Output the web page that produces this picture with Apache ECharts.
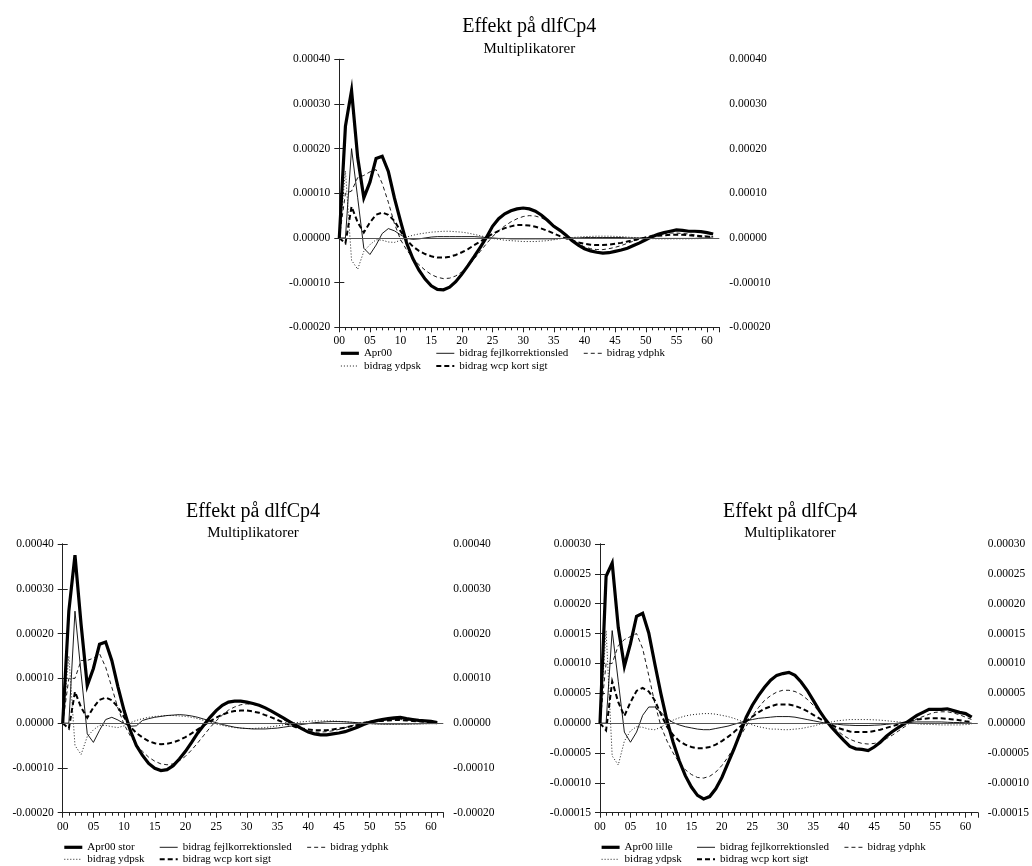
<!DOCTYPE html>
<html>
<head>
<meta charset="utf-8">
<script src="https://cdn.jsdelivr.net/npm/echarts@6/dist/echarts.min.js"></script>
<style>html,body{margin:0;padding:0;background:#fff;}#chart{width:1032px;height:866px;}</style>
</head>
<body>
<div id="chart"></div>
<script>
// x: periods 0..61 ; all values in units of 0.00001
const periods = Array.from({length: 62}, (_, i) => i);
const xTickLabels = ['00','05','10','15','20','25','30','35','40','45','50','55','60'];
const VALUE_UNIT = 0.00001;

// ---- Top panel: Apr00 ----
const topApr = [0,25,33,18,9,12.5,17.8,18.3,14.9,8.9,3.7,-1.2,-4.6,-7.2,-9.2,-10.7,-11.5,-11.6,-11.0,-9.8,-8.1,-6.2,-4.2,-2.1,0.1,2.6,4.3,5.4,6.1,6.5,6.7,6.5,6.0,5.1,3.9,2.6,1.7,0.6,-0.6,-1.6,-2.4,-2.9,-3.2,-3.4,-3.3,-3.0,-2.7,-2.3,-1.7,-1.1,-0.4,0.3,0.8,1.2,1.5,1.8,1.7,1.5,1.5,1.4,1.2,0.9];
const topFejl = [0,0,20,9,-2.3,-3.7,-1.6,1.0,2.1,1.6,0.7,-0.1,-0.3,-0.2,0,0.2,0.3,0.3,0.3,0.3,0.3,0.3,0.3,0.2,0.1,0,-0.1,-0.1,-0.2,-0.2,-0.2,-0.2,-0.2,-0.2,-0.2,-0.2,-0.1,-0.1,0,0,0.1,0.1,0.1,0.1,0.1,0.1,0.1,0,0,0,0,-0.1,-0.1,-0.1,-0.1,-0.1,-0.1,-0.1,-0.1,0,0,0];
const topYdphk = [0,10,10.5,13.5,14,14.8,15.3,12.2,8,3.2,-0.4,-2.7,-4.5,-6.0,-7.2,-8.2,-8.8,-9.1,-9.0,-8.5,-7.6,-6.3,-4.7,-3.0,-1.3,0.3,1.6,2.7,3.6,4.3,4.8,5.0,4.9,4.5,3.8,2.9,1.8,0.7,-0.4,-1.3,-2.0,-2.4,-2.6,-2.6,-2.4,-2.1,-1.7,-1.2,-0.7,-0.2,0.2,0.6,0.8,1.0,1.1,1.1,1.0,0.9,0.7,0.5,0.4,0.3];
const topYdpsk = [0,15,-5,-7,-3,-1.5,-0.4,-0.5,-0.9,-1.0,-0.5,0.2,0.6,0.9,1.1,1.3,1.4,1.5,1.5,1.4,1.3,1.1,0.8,0.5,0.2,-0.1,-0.3,-0.5,-0.6,-0.7,-0.8,-0.8,-0.8,-0.7,-0.6,-0.4,-0.2,0,0.1,0.2,0.3,0.35,0.4,0.4,0.4,0.35,0.3,0.2,0.1,0,-0.1,-0.15,-0.2,-0.2,-0.2,-0.2,-0.2,-0.2,-0.15,-0.15,-0.1,-0.1];
const topWcp = [0,-1.2,7,3.5,1.2,3.5,5.2,5.7,5.2,3.8,1.5,-0.5,-1.9,-2.9,-3.6,-4.1,-4.4,-4.4,-4.2,-3.8,-3.2,-2.5,-1.6,-0.8,0.1,0.9,1.6,2.2,2.6,2.9,2.9,2.8,2.5,2.1,1.6,1.0,0.4,-0.1,-0.6,-1.0,-1.3,-1.5,-1.6,-1.6,-1.5,-1.3,-1.1,-0.8,-0.5,-0.2,0.1,0.3,0.5,0.6,0.7,0.7,0.7,0.6,0.5,0.4,0.3,0.2];

// ---- Bottom-left panel: Apr00 stor ----
const storApr = [0,25,37.5,22,8.4,12.2,17.6,18.1,14,8.1,2.8,-1.6,-5.0,-7.2,-9.0,-10.1,-10.6,-10.4,-9.5,-8.0,-6.3,-4.3,-2.2,-0.4,1.3,2.8,4.0,4.7,4.9,4.9,4.7,4.4,4.0,3.4,2.7,1.9,1.1,0.3,-0.5,-1.3,-2.0,-2.4,-2.6,-2.6,-2.4,-2.2,-1.9,-1.4,-0.9,-0.3,0.2,0.5,0.8,1.0,1.2,1.3,1.0,0.8,0.6,0.5,0.4,0.1];
const storFejl = [0,0,25,11,-2.4,-4.3,-1.6,0.8,1.3,0.7,-0.1,-0.7,-0.6,0.6,1.0,1.3,1.5,1.7,1.8,1.9,1.8,1.6,1.3,0.9,0.5,0.1,-0.3,-0.6,-0.9,-1.1,-1.2,-1.3,-1.3,-1.3,-1.2,-1.1,-0.9,-0.7,-0.5,-0.3,-0.1,0.1,0.2,0.3,0.35,0.35,0.3,0.2,0.1,0,-0.1,-0.15,-0.2,-0.2,-0.2,-0.2,-0.2,-0.15,-0.15,-0.1,-0.1,-0.1];
const storYdphk = [0,10,10,14,14,14.5,15.5,12.5,8,3.3,-0.3,-2.8,-4.8,-6.3,-7.6,-8.5,-9.1,-9.3,-9.1,-8.4,-7.4,-6.0,-4.4,-2.7,-1.0,0.5,1.8,2.9,3.6,4.1,4.3,4.2,3.9,3.3,2.6,1.7,0.8,-0.1,-0.8,-1.4,-1.8,-2.0,-2.0,-1.9,-1.7,-1.4,-1.0,-0.6,-0.2,0.2,0.4,0.6,0.7,0.8,0.8,0.8,0.7,0.6,0.5,0.4,0.3,0.2];
const storYdpsk = [0,15,-5,-7,-3,-1.5,-0.5,-0.5,-0.8,-1.0,-0.6,0.1,0.6,1.0,1.3,1.5,1.6,1.7,1.7,1.6,1.5,1.3,1.0,0.6,0.2,-0.2,-0.5,-0.8,-1.0,-1.1,-1.2,-1.2,-1.1,-1.0,-0.8,-0.6,-0.4,-0.1,0.1,0.3,0.4,0.5,0.5,0.5,0.5,0.4,0.3,0.2,0.1,0,-0.1,-0.2,-0.2,-0.25,-0.25,-0.2,-0.2,-0.2,-0.15,-0.15,-0.1,-0.1];
const storWcp = [0,-1.2,7,3.5,1.2,3.5,5.2,5.7,5.1,3.6,1.3,-0.8,-2.2,-3.2,-4.0,-4.5,-4.7,-4.6,-4.3,-3.8,-3.1,-2.3,-1.4,-0.5,0.4,1.2,1.9,2.4,2.7,2.8,2.8,2.6,2.3,1.8,1.3,0.7,0.1,-0.4,-0.9,-1.2,-1.4,-1.6,-1.6,-1.6,-1.4,-1.2,-1.0,-0.7,-0.4,-0.1,0.2,0.4,0.5,0.6,0.7,0.7,0.6,0.5,0.4,0.3,0.2,0.1];

// ---- Bottom-right panel: Apr00 lille ----
const lilleApr = [0,24.6,26.8,16,9.5,13.3,17.9,18.4,15.1,9.9,4.9,0.4,-3.2,-6.3,-8.8,-10.7,-12.1,-12.7,-12.3,-11.0,-9.1,-6.7,-4.3,-1.7,1.0,3.0,4.6,6.0,7.2,8.0,8.3,8.5,8.0,6.9,5.5,3.8,2.1,0.6,-0.7,-1.8,-2.9,-3.9,-4.3,-4.4,-4.6,-4.0,-3.2,-2.2,-1.4,-0.7,-0.1,0.6,1.3,1.8,2.3,2.3,2.3,2.4,2.1,1.8,1.6,1.0];
const lilleFejl = [0,0,15.5,7,-1.5,-3.2,-1.5,1.3,2.7,2.7,1.8,0.8,0.1,-0.3,-0.6,-0.8,-1.0,-1.1,-1.1,-0.9,-0.7,-0.5,-0.2,0.1,0.4,0.6,0.8,0.9,1.0,1.1,1.1,1.1,1.0,0.8,0.6,0.4,0.2,0,-0.1,-0.2,-0.3,-0.35,-0.4,-0.4,-0.4,-0.35,-0.3,-0.2,-0.1,0,0.1,0.15,0.2,0.2,0.2,0.2,0.2,0.15,0.1,0.1,0.05,0];
const lilleYdphk = [0,10,10,13,14,14.5,15,12.5,8,3.3,-0.5,-3.0,-5.0,-6.6,-7.8,-8.6,-9.1,-9.2,-8.9,-8.2,-7.1,-5.7,-4.0,-2.2,-0.5,1.2,2.6,3.8,4.6,5.2,5.5,5.5,5.3,4.8,4.0,3.0,1.9,0.7,-0.4,-1.3,-2.1,-2.7,-3.1,-3.4,-3.5,-3.4,-3.1,-2.6,-2.0,-1.3,-0.6,0.1,0.7,1.1,1.5,1.8,1.9,1.9,1.7,1.4,1.0,0.6];
const lilleYdpsk = [0,15.5,-5.5,-7,-3,-1.3,-0.6,-0.7,-1.0,-1.1,-0.7,0,0.5,0.9,1.2,1.4,1.5,1.6,1.6,1.5,1.3,1.1,0.8,0.4,0.1,-0.3,-0.6,-0.8,-1.0,-1.0,-1.1,-1.1,-1.0,-0.9,-0.7,-0.5,-0.2,0,0.2,0.4,0.5,0.6,0.6,0.6,0.6,0.55,0.5,0.4,0.3,0.2,0.1,0,-0.1,-0.2,-0.2,-0.25,-0.3,-0.3,-0.3,-0.3,-0.25,-0.2];
const lilleWcp = [0,-1.2,7,3.5,1.2,3.5,5.4,5.9,5.3,3.8,1.5,-0.6,-2.0,-3.0,-3.6,-4.0,-4.2,-4.2,-4.0,-3.6,-3.0,-2.3,-1.5,-0.6,0.3,1.1,1.8,2.4,2.8,3.1,3.1,3.1,2.9,2.5,2.0,1.4,0.8,0.2,-0.3,-0.8,-1.1,-1.4,-1.5,-1.5,-1.5,-1.3,-1.1,-0.8,-0.5,-0.2,0.1,0.4,0.6,0.7,0.8,0.8,0.8,0.7,0.6,0.5,0.3,0.2];

const titleText = 'Effekt på dlfCp4';
const subtitleText = 'Multiplikatorer';
const nameFejl = 'bidrag fejlkorrektionsled';
const nameYdphk = 'bidrag ydphk';
const nameYdpsk = 'bidrag ydpsk';
const nameWcp = 'bidrag wcp kort sigt';

const FONT = "'Liberation Serif','Times New Roman',serif";
const INK = '#000';
const AXIS = '#222';

const styles = {
  apr:   {width: 3.2, type: 'solid'},
  fejl:  {width: 0.9, type: 'solid'},
  ydphk: {width: 0.9, type: [4, 3]},
  ydpsk: {width: 0.9, type: [1, 2]},
  wcp:   {width: 2, type: [5, 3]}
};

const panels = [
  {left: 339.3, top: 59.3, width: 380, height: 268, ymin: -20, ymax: 40, yint: 10,
   aprName: 'Apr00', apr: topApr, fejl: topFejl, ydphk: topYdphk, ydpsk: topYdpsk, wcp: topWcp,
   titleY: 26.7, subY: 49.3, legendTop: 347.3, legendGap: 0.7},
  {left: 62.7, top: 544, width: 380.6, height: 268.7, ymin: -20, ymax: 40, yint: 10,
   aprName: 'Apr00 stor', apr: storApr, fejl: storFejl, ydphk: storYdphk, ydpsk: storYdpsk, wcp: storWcp,
   titleY: 511.7, subY: 533.3, legendTop: 841.3, legendGap: 0},
  {left: 600, top: 544, width: 380, height: 268.7, ymin: -15, ymax: 30, yint: 5,
   aprName: 'Apr00 lille', apr: lilleApr, fejl: lilleFejl, ydphk: lilleYdphk, ydpsk: lilleYdpsk, wcp: lilleWcp,
   titleY: 511.7, subY: 533.3, legendTop: 841.3, legendGap: 0}
];

const grid = [], xAxis = [], yAxis = [], series = [], legend = [], graphic = [];
const yFmt = v => (v * VALUE_UNIT).toFixed(5);
const xFmt = v => (v % 5 === 0 && v <= 60) ? xTickLabels[v / 5] : '';

panels.forEach((p, i) => {
  grid.push({left: p.left, top: p.top, width: p.width, height: p.height, containLabel: false});
  xAxis.push({
    type: 'value', gridIndex: i, min: 0, max: 62, interval: 5, position: 'bottom',
    axisLine: {show: true, onZero: false, lineStyle: {color: AXIS, width: 1}},
    axisTick: {show: true, length: 5, lineStyle: {color: AXIS}},
    axisLabel: {formatter: xFmt, fontFamily: FONT, fontSize: 11.5, color: INK, margin: 8},
    splitLine: {show: false}
  });
  xAxis.push({
    type: 'value', gridIndex: i, min: 0, max: 62, interval: 1, position: 'bottom',
    axisLine: {show: false, onZero: false},
    axisTick: {show: true, length: 3, lineStyle: {color: AXIS}},
    axisLabel: {show: false},
    splitLine: {show: false}
  });
  const yCommon = {
    type: 'value', gridIndex: i, min: p.ymin, max: p.ymax, interval: p.yint,
    axisLine: {show: true, lineStyle: {color: AXIS, width: 1}},
    axisTick: {show: true, length: 5, lineStyle: {color: AXIS}},
    axisLabel: {formatter: yFmt, fontFamily: FONT, fontSize: 11.5, color: INK, margin: 9},
    splitLine: {show: false}
  };
  yAxis.push(Object.assign({}, yCommon, {position: 'left'}));
  yAxis.push(Object.assign({}, yCommon, {position: 'right', axisLabel: Object.assign({}, yCommon.axisLabel, {margin: 10})}));

  const mk = (name, vals, st, extra) => Object.assign({
    type: 'line', name, xAxisIndex: 2 * i, yAxisIndex: 2 * i,
    data: periods.map((x, k) => [x, vals[k]]),
    symbol: 'none', showSymbol: false, smooth: false, silent: true,
    lineStyle: {color: INK, width: st.width, type: st.type, cap: 'butt', join: 'miter'},
    itemStyle: {color: INK},
    emphasis: {disabled: true}
  }, extra || {});

  series.push(mk(nameFejl, p.fejl, styles.fejl, {
    markLine: {silent: true, symbol: 'none', label: {show: false},
      lineStyle: {color: '#555', type: 'solid', width: 1},
      data: [{yAxis: 0}]}
  }));
  series.push(mk(nameYdpsk, p.ydpsk, styles.ydpsk));
  series.push(mk(nameYdphk, p.ydphk, styles.ydphk));
  series.push(mk(nameWcp, p.wcp, styles.wcp));
  series.push(mk(p.aprName, p.apr, styles.apr));

  const cols = [
    {off: 0, data: [p.aprName, nameYdpsk]},
    {off: 96, data: [nameFejl, nameWcp]},
    {off: 244, data: [nameYdphk]}
  ];
  cols.forEach(c => {
    legend.push({
      orient: 'vertical', left: p.left + c.off, top: p.legendTop, padding: 0,
      itemWidth: 18, itemHeight: 8, itemGap: p.legendGap, selectedMode: false,
      itemStyle: {opacity: 0, borderWidth: 0},
      lineStyle: {width: 'inherit', type: 'inherit', color: 'inherit'},
      textStyle: {fontFamily: FONT, fontSize: 11, color: INK, lineHeight: 12},
      data: c.data
    });
  });

  const cx = p.left + p.width / 2;
  graphic.push({type: 'text', x: cx, y: p.titleY, silent: true,
    style: {text: titleText, font: '20px ' + FONT, fill: INK, align: 'center', verticalAlign: 'middle'}});
  graphic.push({type: 'text', x: cx, y: p.subY, silent: true,
    style: {text: subtitleText, font: '15px ' + FONT, fill: INK, align: 'center', verticalAlign: 'middle'}});
});

const chart = echarts.init(document.getElementById('chart'), null, {renderer: 'canvas', width: 1032, height: 866});
chart.setOption({
  animation: false,
  backgroundColor: '#fff',
  grid, xAxis, yAxis, series, legend, graphic
});
</script>
</body>
</html>
